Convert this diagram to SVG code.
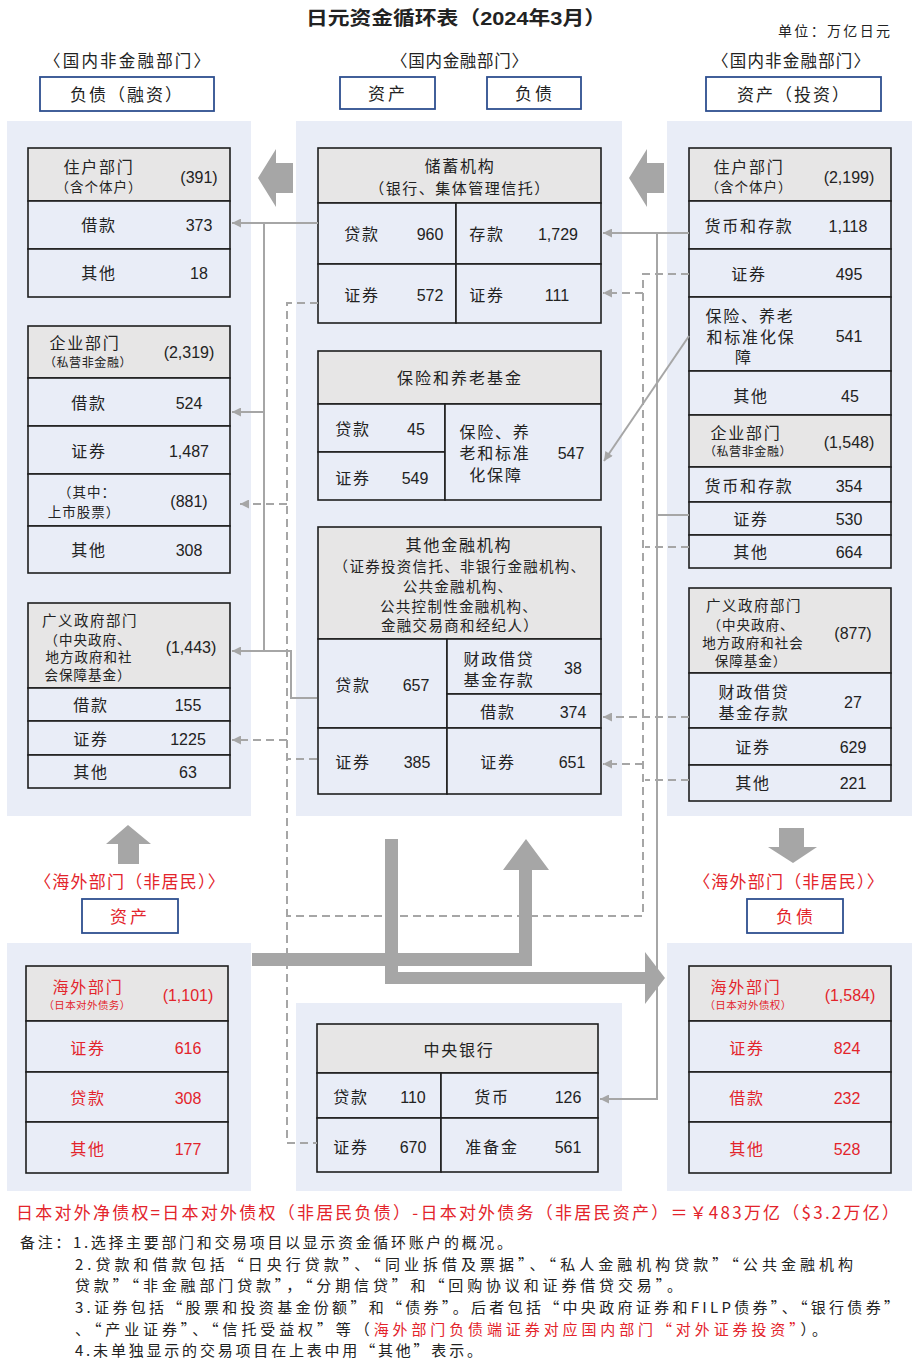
<svg xmlns="http://www.w3.org/2000/svg" width="919" height="1363" viewBox="0 0 919 1363">
<defs>
<style>
text{font-family:"Liberation Sans","Noto Sans CJK SC",sans-serif;fill:#222;}
.c{text-anchor:middle;dominant-baseline:central;}
.l{dominant-baseline:central;}
.lb{font-size:16px;letter-spacing:1.8px;}
.num{font-size:16px;}
.sb{font-size:13.5px;letter-spacing:1px;}
.xs{font-size:12px;letter-spacing:0.6px;}
.xxs{font-size:10.5px;letter-spacing:0.4px;}
.red{fill:#E3242B;}
.panel{fill:#E9EDF7;}
.cell{fill:#E9EDF7;stroke:#1F1F1F;stroke-width:1.6;}
.hdr{fill:#E7E6E6;stroke:#1F1F1F;stroke-width:1.6;}
.lbox{fill:#fff;stroke:#2E4F8F;stroke-width:1.8;}
.sec{font-size:16.5px;letter-spacing:1px;}
.ln{fill:none;stroke:#A6A6A6;stroke-width:2;}
.dl{fill:none;stroke:#A6A6A6;stroke-width:2;stroke-dasharray:8,5;}
.big{fill:#A6A6A6;}
.note{font-size:15px;font-family:"Noto Sans CJK SC","Liberation Sans",sans-serif;}
</style>
<marker id="ah" viewBox="0 0 10 10" refX="10" refY="5" markerWidth="11" markerHeight="9" orient="auto" markerUnits="userSpaceOnUse">
<path d="M0,0 L10,5 L0,10 z" fill="#A6A6A6"/>
</marker>
</defs>
<rect width="919" height="1363" fill="#fff"/>

<!-- titles -->
<g id="titles">
<text class="c" x="456" y="18" style="font-size:19px;font-weight:bold" textLength="300" lengthAdjust="spacingAndGlyphs">日元资金循环表（2024年3月）</text>
<text class="l" x="778" y="31" style="font-size:14px" textLength="112">单位：万亿日元</text>
<text class="l sec" x="44" y="61" textLength="167">〈国内非金融部门〉</text>
<text class="l sec" x="391" y="61" textLength="138">〈国内金融部门〉</text>
<text class="l sec" x="712" y="61" textLength="159">〈国内非金融部门〉</text>
<rect class="lbox" x="40" y="77" width="174" height="34"/>
<text class="c" x="127" y="95" style="font-size:17px;letter-spacing:2px">负债（融资）</text>
<rect class="lbox" x="340" y="77" width="95" height="32"/>
<text class="c" x="388" y="94" style="font-size:17px;letter-spacing:3px">资产</text>
<rect class="lbox" x="487" y="77" width="94" height="32"/>
<text class="c" x="535" y="94" style="font-size:17px;letter-spacing:3px">负债</text>
<rect class="lbox" x="706" y="77" width="175" height="34"/>
<text class="c" x="794" y="95" style="font-size:17px;letter-spacing:2px">资产（投资）</text>
</g>

<!-- panels -->
<g id="panels">
<rect class="panel" x="7" y="121" width="244" height="695"/>
<rect class="panel" x="296" y="121" width="326" height="695"/>
<rect class="panel" x="667" y="121" width="245" height="695"/>
<rect class="panel" x="7" y="943" width="244" height="248"/>
<rect class="panel" x="296" y="1003" width="326" height="188"/>
<rect class="panel" x="667" y="943" width="245" height="248"/>
</g>

<!-- left: liabilities -->
<g id="hh-liab">
<rect class="hdr" x="28" y="148" width="202" height="53"/>
<rect class="cell" x="28" y="201" width="202" height="48"/>
<rect class="cell" x="28" y="249" width="202" height="48"/>
<text class="c lb" x="99" y="167">住户部门</text>
<text class="c sb" x="99" y="187">（含个体户）</text>
<text class="c num" x="199" y="177">(391)</text>
<text class="c lb" x="99" y="225">借款</text><text class="c num" x="199" y="225">373</text>
<text class="c lb" x="99" y="273">其他</text><text class="c num" x="199" y="273">18</text>
</g>

<g id="corp-liab">
<rect class="hdr" x="28" y="326" width="202" height="52"/>
<rect class="cell" x="28" y="378" width="202" height="48"/>
<rect class="cell" x="28" y="426" width="202" height="48"/>
<rect class="cell" x="28" y="474" width="202" height="52"/>
<rect class="cell" x="28" y="526" width="202" height="47"/>
<text class="c lb" x="85" y="343">企业部门</text>
<text class="c xs" x="88" y="363">（私营非金融）</text>
<text class="c num" x="189" y="352">(2,319)</text>
<text class="c lb" x="89" y="403">借款</text><text class="c num" x="189" y="403">524</text>
<text class="c lb" x="89" y="451">证券</text><text class="c num" x="189" y="451">1,487</text>
<text class="c sb" x="87" y="492">（其中：</text>
<text class="c sb" x="84" y="512">上市股票）</text>
<text class="c num" x="189" y="501">(881)</text>
<text class="c lb" x="89" y="550">其他</text><text class="c num" x="189" y="550">308</text>
</g>

<g id="gov-liab">
<rect class="hdr" x="28" y="603" width="202" height="85"/>
<rect class="cell" x="28" y="688" width="202" height="33"/>
<rect class="cell" x="28" y="721" width="202" height="34"/>
<rect class="cell" x="28" y="755" width="202" height="33"/>
<text class="c" x="90" y="621" style="font-size:14.5px;letter-spacing:1.5px">广义政府部门</text>
<text class="c sb" x="88" y="640">（中央政府、</text>
<text class="c sb" x="89" y="657">地方政府和社</text>
<text class="c sb" x="88" y="675">会保障基金）</text>
<text class="c num" x="191" y="647">(1,443)</text>
<text class="c lb" x="91" y="705">借款</text><text class="c num" x="188" y="705">155</text>
<text class="c lb" x="91" y="739">证券</text><text class="c num" x="188" y="739">1225</text>
<text class="c lb" x="91" y="772">其他</text><text class="c num" x="188" y="772">63</text>
</g>

<!-- middle: financial -->
<g id="deposit-inst">
<rect class="hdr" x="318" y="148" width="283" height="55"/>
<rect class="cell" x="318" y="203" width="138" height="61"/>
<rect class="cell" x="456" y="203" width="145" height="61"/>
<rect class="cell" x="318" y="264" width="138" height="59"/>
<rect class="cell" x="456" y="264" width="145" height="59"/>
<text class="c lb" x="460" y="166">储蓄机构</text>
<text class="c" x="460" y="188" style="font-size:15px;letter-spacing:1.5px">（银行、集体管理信托）</text>
<text class="c lb" x="362" y="234">贷款</text><text class="c num" x="430" y="234">960</text>
<text class="c lb" x="487" y="234">存款</text><text class="c num" x="558" y="234">1,729</text>
<text class="c lb" x="362" y="295">证券</text><text class="c num" x="430" y="295">572</text>
<text class="c lb" x="487" y="295">证券</text><text class="c num" x="557" y="295">111</text>
</g>

<g id="insurance">
<rect class="hdr" x="318" y="351" width="283" height="53"/>
<rect class="cell" x="318" y="404" width="127" height="48"/>
<rect class="cell" x="318" y="452" width="127" height="48"/>
<rect class="cell" x="445" y="404" width="156" height="96"/>
<text class="c" x="460" y="378" style="font-size:16px;letter-spacing:2px">保险和养老基金</text>
<text class="c lb" x="353" y="429">贷款</text><text class="c num" x="416" y="429">45</text>
<text class="c lb" x="353" y="478">证券</text><text class="c num" x="415" y="478">549</text>
<text class="c lb" x="495" y="432">保险、养</text>
<text class="c lb" x="495" y="453">老和标准</text>
<text class="c lb" x="496" y="475">化保障</text>
<text class="c num" x="571" y="453">547</text>
</g>

<g id="other-fi">
<rect class="hdr" x="318" y="527" width="283" height="112"/>
<rect class="cell" x="318" y="639" width="129" height="89"/>
<rect class="cell" x="447" y="639" width="154" height="55"/>
<rect class="cell" x="447" y="694" width="154" height="34"/>
<rect class="cell" x="318" y="728" width="129" height="66"/>
<rect class="cell" x="447" y="728" width="154" height="66"/>
<text class="c lb" x="459" y="545">其他金融机构</text>
<text class="c" x="460" y="567" style="font-size:14.5px;letter-spacing:1.3px">（证券投资信托、非银行金融机构、</text>
<text class="c" x="458" y="587" style="font-size:14.5px;letter-spacing:1.3px">公共金融机构、</text>
<text class="c" x="459" y="607" style="font-size:14.5px;letter-spacing:1.3px">公共控制性金融机构、</text>
<text class="c" x="460" y="626" style="font-size:14.5px;letter-spacing:1.3px">金融交易商和经纪人）</text>
<text class="c lb" x="353" y="685">贷款</text><text class="c num" x="416" y="685">657</text>
<text class="c lb" x="499" y="659">财政借贷</text>
<text class="c lb" x="499" y="680">基金存款</text>
<text class="c num" x="573" y="668">38</text>
<text class="c lb" x="498" y="712">借款</text><text class="c num" x="573" y="712">374</text>
<text class="c lb" x="353" y="762">证券</text><text class="c num" x="417" y="762">385</text>
<text class="c lb" x="498" y="762">证券</text><text class="c num" x="572" y="762">651</text>
</g>

<!-- right: assets -->
<g id="hh-asset">
<rect class="hdr" x="689" y="148" width="202" height="53"/>
<rect class="cell" x="689" y="201" width="202" height="48"/>
<rect class="cell" x="689" y="249" width="202" height="48"/>
<rect class="cell" x="689" y="297" width="202" height="74"/>
<rect class="cell" x="689" y="371" width="202" height="44"/>
<text class="c lb" x="749" y="167">住户部门</text>
<text class="c sb" x="749" y="187">（含个体户）</text>
<text class="c num" x="849" y="177">(2,199)</text>
<text class="c lb" x="749" y="226">货币和存款</text><text class="c num" x="848" y="226">1,118</text>
<text class="c lb" x="749" y="274">证券</text><text class="c num" x="849" y="274">495</text>
<text class="c lb" x="750" y="316">保险、养老</text>
<text class="c lb" x="751" y="337">和标准化保</text>
<text class="c lb" x="744" y="357">障</text>
<text class="c num" x="849" y="336">541</text>
<text class="c lb" x="751" y="396">其他</text><text class="c num" x="850" y="396">45</text>
</g>

<g id="corp-asset">
<rect class="hdr" x="689" y="415" width="202" height="52"/>
<rect class="cell" x="689" y="467" width="202" height="35"/>
<rect class="cell" x="689" y="502" width="202" height="33"/>
<rect class="cell" x="689" y="535" width="202" height="33"/>
<text class="c lb" x="746" y="433">企业部门</text>
<text class="c xs" x="748" y="452">（私营非金融）</text>
<text class="c num" x="849" y="442">(1,548)</text>
<text class="c lb" x="749" y="486">货币和存款</text><text class="c num" x="849" y="486">354</text>
<text class="c lb" x="751" y="519">证券</text><text class="c num" x="849" y="519">530</text>
<text class="c lb" x="751" y="552">其他</text><text class="c num" x="849" y="552">664</text>
</g>

<g id="gov-asset">
<rect class="hdr" x="689" y="588" width="202" height="85"/>
<rect class="cell" x="689" y="673" width="202" height="55"/>
<rect class="cell" x="689" y="728" width="202" height="37"/>
<rect class="cell" x="689" y="765" width="202" height="36"/>
<text class="c" x="754" y="606" style="font-size:14.5px;letter-spacing:1.5px">广义政府部门</text>
<text class="c sb" x="751" y="625">（中央政府、</text>
<text class="c sb" x="753" y="643">地方政府和社会</text>
<text class="c sb" x="751" y="661">保障基金）</text>
<text class="c num" x="853" y="633">(877)</text>
<text class="c lb" x="754" y="692">财政借贷</text>
<text class="c lb" x="754" y="713">基金存款</text>
<text class="c num" x="853" y="702">27</text>
<text class="c lb" x="753" y="747">证券</text><text class="c num" x="853" y="747">629</text>
<text class="c lb" x="753" y="783">其他</text><text class="c num" x="853" y="783">221</text>
</g>

<!-- overseas labels -->
<g id="overseas-labels">
<text class="c red" x="130" y="882" style="font-size:17px;letter-spacing:1.2px">〈海外部门（非居民）〉</text>
<rect class="lbox" x="82" y="899" width="96" height="34"/>
<text class="c red" x="130" y="917" style="font-size:17px;letter-spacing:3px">资产</text>
<text class="c red" x="789" y="882" style="font-size:17px;letter-spacing:1.2px">〈海外部门（非居民）〉</text>
<rect class="lbox" x="747" y="899" width="96" height="34"/>
<text class="c red" x="796" y="917" style="font-size:17px;letter-spacing:3px">负债</text>
</g>

<g id="overseas-asset">
<rect class="hdr" x="26" y="966" width="202" height="55"/>
<rect class="cell" x="26" y="1021" width="202" height="51"/>
<rect class="cell" x="26" y="1072" width="202" height="50"/>
<rect class="cell" x="26" y="1122" width="202" height="51"/>
<text class="c lb red" x="88" y="987">海外部门</text>
<text class="c xxs red" x="87" y="1005">（日本对外债务）</text>
<text class="c num red" x="188" y="995">(1,101)</text>
<text class="c lb red" x="88" y="1048">证券</text><text class="c num red" x="188" y="1048">616</text>
<text class="c lb red" x="88" y="1098">贷款</text><text class="c num red" x="188" y="1098">308</text>
<text class="c lb red" x="88" y="1149">其他</text><text class="c num red" x="188" y="1149">177</text>
</g>

<g id="central-bank">
<rect class="hdr" x="317" y="1024" width="281" height="49"/>
<rect class="cell" x="317" y="1073" width="124" height="45"/>
<rect class="cell" x="441" y="1073" width="157" height="45"/>
<rect class="cell" x="317" y="1118" width="124" height="54"/>
<rect class="cell" x="441" y="1118" width="157" height="54"/>
<text class="c lb" x="459" y="1050">中央银行</text>
<text class="c lb" x="351" y="1097">贷款</text><text class="c num" x="413" y="1097">110</text>
<text class="c lb" x="492" y="1097">货币</text><text class="c num" x="568" y="1097">126</text>
<text class="c lb" x="351" y="1147">证券</text><text class="c num" x="413" y="1147">670</text>
<text class="c lb" x="492" y="1147">准备金</text><text class="c num" x="568" y="1147">561</text>
</g>

<g id="overseas-liab">
<rect class="hdr" x="689" y="966" width="202" height="55"/>
<rect class="cell" x="689" y="1021" width="202" height="51"/>
<rect class="cell" x="689" y="1072" width="202" height="50"/>
<rect class="cell" x="689" y="1122" width="202" height="51"/>
<text class="c lb red" x="746" y="987">海外部门</text>
<text class="c xxs red" x="748" y="1005">（日本对外债权）</text>
<text class="c num red" x="850" y="995">(1,584)</text>
<text class="c lb red" x="747" y="1048">证券</text><text class="c num red" x="847" y="1048">824</text>
<text class="c lb red" x="747" y="1098">借款</text><text class="c num red" x="847" y="1098">232</text>
<text class="c lb red" x="747" y="1149">其他</text><text class="c num red" x="847" y="1149">528</text>
</g>

<!-- connectors -->
<g id="connectors">
<g id="flows">
<polygon class="big" points="258,178 276,149 276,163 293,163 293,193 276,193 276,207"/>
<polygon class="big" points="629,178 647,149 647,163 664,163 664,193 647,193 647,207"/>
<polygon class="big" points="128,825 151,844 139,844 139,864 118,864 118,844 106,844"/>
<polygon class="big" points="779,828 804,828 804,847 817,847 793,863 768,847 779,847"/>
<polygon class="big" points="252,953 519,953 519,870 503,870 526,839 549,870 532,870 532,966 252,966"/>
<polygon class="big" points="385,839 398,839 398,972 645,972 645,952 665,978 645,1004 645,984 385,984"/>
</g>
<g id="solid-links">
<path class="ln" d="M318,223 H232" marker-end="url(#ah)"/>
<path class="ln" d="M264,223 V651"/>
<path class="ln" d="M264,412 H232" marker-end="url(#ah)"/>
<path class="ln" d="M317,698 H291 V651 H232" marker-end="url(#ah)"/>
<path class="ln" d="M689,233 H603" marker-end="url(#ah)"/>
<path class="ln" d="M657,233 V1099 H600" marker-end="url(#ah)"/>
<path class="ln" d="M689,515 H657"/>
<path class="ln" d="M689,336 L604,461" marker-end="url(#ah)"/>
</g>
<g id="dashed-links">
<path class="dl" d="M689,274 H643 V916 H287"/>
<path class="dl" d="M643,293 H603" marker-end="url(#ah)"/>
<path class="dl" d="M318,303 H287 V1143 H317"/>
<path class="dl" d="M287,504 H240" marker-end="url(#ah)"/>
<path class="dl" d="M287,740 H232" marker-end="url(#ah)"/>
<path class="dl" d="M317,759 H287"/>
<path class="dl" d="M689,717 H603" marker-end="url(#ah)"/>
<path class="dl" d="M643,764 H603" marker-end="url(#ah)"/>
<path class="dl" d="M689,547 H645"/>
<path class="dl" d="M689,780 H645"/>
</g>
</g>

<!-- footer -->
<g id="footer">
<text class="l red" x="16" y="1211" style="font-size:17px;font-family:'Noto Sans CJK SC','Liberation Sans',sans-serif" textLength="883">日本对外净债权=日本对外债权（非居民负债）-日本对外债务（非居民资产）＝￥483万亿（$3.2万亿）</text>
<text class="l note" x="20" y="1241" textLength="492">备注：1.选择主要部门和交易项目以显示资金循环账户的概况。</text>
<text class="l note" x="75" y="1263" textLength="778">2.贷款和借款包括“日央行贷款”、“同业拆借及票据”、“私人金融机构贷款”“公共金融机构</text>
<text class="l note" x="75" y="1284" textLength="607">贷款”“非金融部门贷款”，“分期信贷”和“回购协议和证券借贷交易”。</text>
<text class="l note" x="75" y="1306" textLength="824">3.证券包括“股票和投资基金份额”和“债券”。后者包括“中央政府证券和FILP债券”、“银行债券”</text>
<text class="l note" x="75" y="1328" textLength="752">、“产业证券”、“信托受益权”等（<tspan class="red">海外部门负债端证券对应国内部门“对外证券投资”</tspan>）。</text>
<text class="l note" x="75" y="1349" textLength="407">4.未单独显示的交易项目在上表中用“其他”表示。</text>
</g>
</svg>
